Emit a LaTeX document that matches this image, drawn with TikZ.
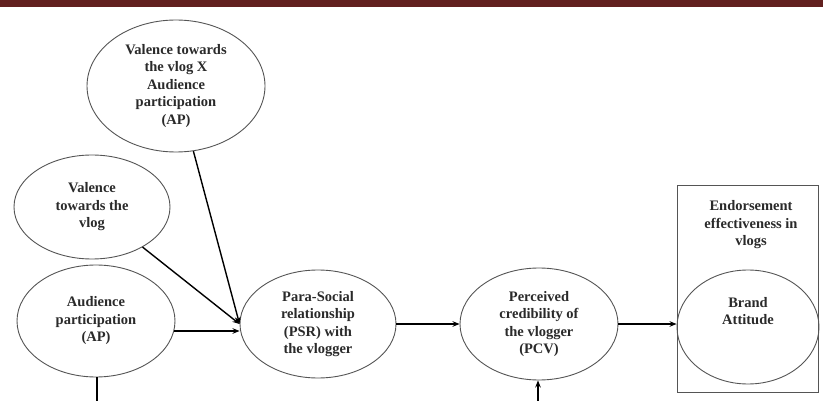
\documentclass[tikz,border=0pt]{standalone}
\usepackage{fontspec}
\setmainfont{Liberation Serif}[BoldFont={Liberation Serif Bold}]
\usetikzlibrary{shapes.geometric,arrows.meta,calc}

\definecolor{barred}{HTML}{62201F}
\definecolor{outline}{HTML}{555555}
\definecolor{ink}{HTML}{2A2A2A}

\begin{document}
\begin{tikzpicture}[x=1pt,y=-1pt,
  construct/.style={ellipse, draw=outline, line width=0.9pt, inner sep=0pt,
    align=center, font=\bfseries\fontsize{14.5}{17.5}\selectfont, text=ink},
  caption/.style={align=center, font=\bfseries\fontsize{14.5}{17.5}\selectfont, text=ink, inner sep=0pt},
  link/.style={line width=1.4pt, black},
  effect/.style={link, -{Stealth[length=7pt,width=5.5pt]}}]

\useasboundingbox (0,0) rectangle (823,401);
\fill[white] (0,0) rectangle (823,401);

% header bar
\fill[barred] (0,0) rectangle (823,7);

% constructs
\node[construct, minimum width=178pt, minimum height=132pt] (vxap) at (176,86)
  {Valence towards\\the vlog X\\Audience\\participation\\(AP)};
\node[construct, minimum width=156pt, minimum height=104pt] (val) at (92,207)
  {Valence\\towards the\\vlog};
\node[construct, minimum width=158pt, minimum height=112pt] (ap) at (96,321)
  {Audience\\participation\\(AP)};
\node[construct, minimum width=156pt, minimum height=108pt] (psr) at (318,324)
  {Para-Social\\relationship\\(PSR) with\\the vlogger};
\node[construct, minimum width=158pt, minimum height=112pt] (pcv) at (539,324)
  {Perceived\\credibility of\\the vlogger\\(PCV)};

% outcome block
\node[draw=outline, line width=0.9pt, minimum width=141pt, minimum height=207pt, inner sep=0pt] (outcome) at (747.5,288.5) {};
\node[caption] (outtitle) at (751,225) {Endorsement\\effectiveness in\\vlogs};
\node[construct, minimum width=142pt, minimum height=114pt] (brand) at (748,327) {};
\node[caption] (brandtxt) at (748,311) {Brand\\Attitude};

% paths
\coordinate (apright) at ($(ap.center)+(78.2,10)$);
\draw[effect] (vxap) -- (psr.west);
\draw[effect] (val) -- (psr.west);
\draw[effect, line width=1.6pt] (apright) -- (apright -| psr.west);
\draw[effect] (psr.east) -- (pcv.west);
\draw[effect] (pcv.east) -- (pcv.east -| brand.west);

% lines leaving the lower edge
\coordinate (apdown) at (97,401);
\coordinate (pcvup) at (538,401);
\draw[link] (ap.south -| apdown) -- (apdown);
\draw[effect] (pcvup) -- (pcvup |- pcv.south);

\end{tikzpicture}
\end{document}
